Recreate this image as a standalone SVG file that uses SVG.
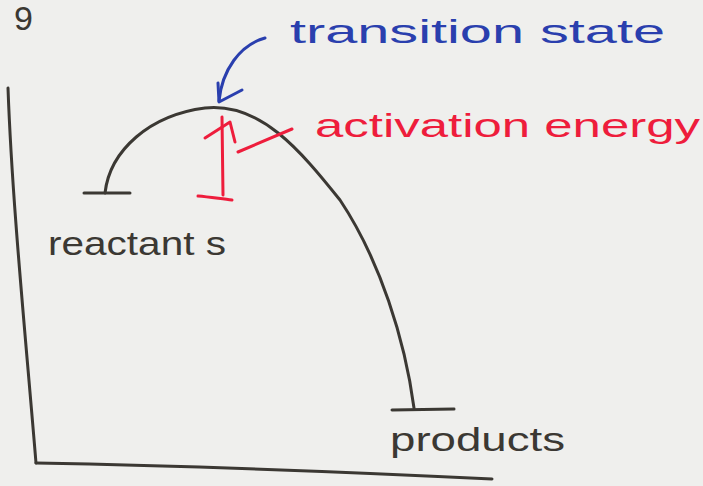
<svg xmlns="http://www.w3.org/2000/svg" width="703" height="486" viewBox="0 0 703 486">
<style>
.ink{fill:none;stroke:#3b3833;stroke-width:3;stroke-linecap:round;stroke-linejoin:round}
.blue{fill:none;stroke:#2a3fae;stroke-width:3;stroke-linecap:round;stroke-linejoin:round}
.red{fill:none;stroke:#ee1d3c;stroke-width:3;stroke-linecap:round;stroke-linejoin:round}
.t{font-family:"Liberation Sans",Arial,sans-serif;font-size:34px}
</style>
<rect width="703" height="486" fill="#efefed"/>
<g id="axes">
<path class="ink" d="M8,88 C12,200 25,330 36,463"/>
<path class="ink" d="M36,463 C200,466 350,472 492,479"/>
</g>
<g id="page-number"><text class="t" x="14" y="30" fill="#3b3833" font-size="24">9</text></g>
<g id="connectors">
<path class="ink" d="M105,193 C110,150 150,115 205,108 C260,102 300,150 340,200 C380,260 405,340 414,408"/>
<path class="blue" d="M265,38 C240,45 222,70 219,101"/>
<path class="blue" d="M218,83 L219,102 L242,90"/>
<path class="red" d="M222,117 L223,195"/>
<path class="red" d="M205,138 L230,122 L235,142"/>
<path class="red" d="M198,196 C210,197 222,199 232,200"/>
<path class="red" d="M238,152 L292,129"/>
</g>
<g id="reactants">
<path class="ink" d="M84,193 L130,193"/>
<text class="t" x="48" y="255" fill="#3b3833" textLength="178" lengthAdjust="spacingAndGlyphs">reactant s</text>
</g>
<g id="products">
<path class="ink" d="M392,410 L454,409"/>
<text class="t" x="390" y="451" fill="#3b3833" textLength="175" lengthAdjust="spacingAndGlyphs">products</text>
</g>
<g id="transition-state">
<text class="t" x="290" y="43" fill="#2a3fae" font-size="38" textLength="375" lengthAdjust="spacingAndGlyphs">transition  state</text>
</g>
<g id="activation-energy">
<text class="t" x="315" y="137" fill="#ee1d3c" font-size="36" textLength="385" lengthAdjust="spacingAndGlyphs">activation  energy</text>
</g>
</svg>
